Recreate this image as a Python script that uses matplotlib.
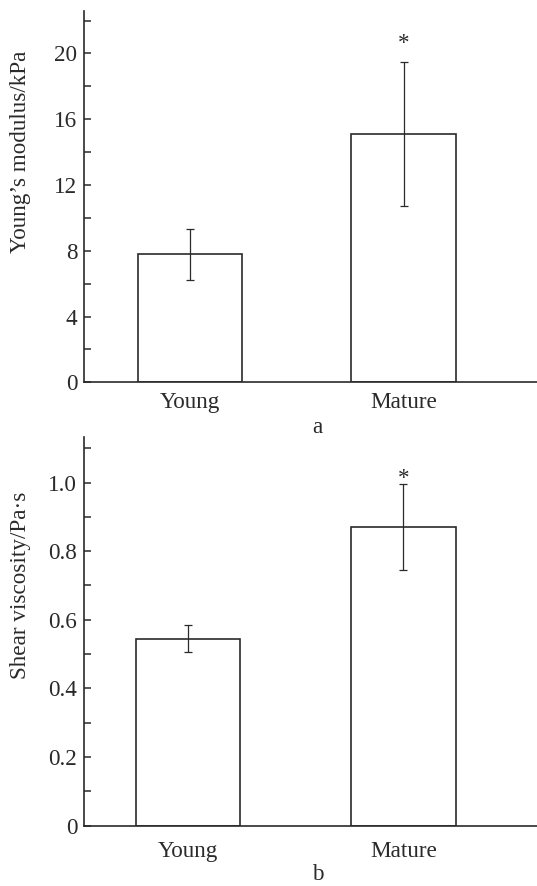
import matplotlib.pyplot as plt
import numpy as np

plt.rcParams['font.family'] = ['Liberation Serif', 'DejaVu Serif']

groups = ["Young", "Mature"]

modulus = np.array([7.8, 15.1])        # kPa
modulus_err = np.array([1.55, 4.4])
modulus_ticks = [0, 4, 8, 12, 16, 20]

viscosity = np.array([0.545, 0.87])    # Pa·s
viscosity_err = np.array([0.04, 0.125])
viscosity_ticks = [0, 0.2, 0.4, 0.6, 0.8, 1.0]
viscosity_labels = ["0", "0.2", "0.4", "0.6", "0.8", "1.0"]

ink = "#2a2a2a"
fs = 16.7

fig = plt.figure(figsize=(5.37, 8.86), dpi=100)


def bar_panel(ax, values, errs, width, ylim, ticks, ticklabels, minor, star_y, xpad):
    x = np.arange(len(values))
    ax.bar(x, values, width=width, color="white", edgecolor=ink, linewidth=1.2, zorder=2)
    ax.errorbar(x, values, yerr=errs, fmt="none", ecolor=ink, elinewidth=0.9,
                capsize=3, capthick=0.9, zorder=3)
    # significance mark above the mature group
    ax.text(x[1], star_y, "*", ha="center", va="center", fontsize=fs, color=ink)

    ax.set_ylim(ylim)
    ax.set_yticks(ticks)
    ax.set_yticklabels(ticklabels)
    ax.set_yticks(minor, minor=True)
    ax.set_xticks(x)
    ax.set_xticklabels(groups)

    for side in ["top", "right"]:
        ax.spines[side].set_visible(False)
    for side in ["left", "bottom"]:
        ax.spines[side].set_color(ink)
        ax.spines[side].set_linewidth(1.2)

    ax.tick_params(axis="y", which="both", direction="in", length=5, width=1.1,
                   color=ink, labelsize=fs, labelcolor=ink, pad=4.5)
    ax.tick_params(axis="x", length=0, labelsize=fs, labelcolor=ink, pad=xpad)


# a: Young's modulus
ax1 = fig.add_axes([0.1555, 0.5685, 0.8445, 0.4194])
bar_panel(ax1, modulus, modulus_err, 0.49, (0, 22.6), modulus_ticks,
          [str(t) for t in modulus_ticks], [2, 6, 10, 14, 18, 22], 20.6, 7)
ax1.set_xlim(-0.5, 1.625)
fig.text(21 / 537, 1 - 152 / 886, "Young\u2019s modulus/kPa", rotation=90,
         ha="center", va="center", fontsize=fs, color=ink)
fig.text(0.591, 1 - 428 / 886, "a", ha="center", va="center", fontsize=fs, color=ink)

# b: shear viscosity
ax2 = fig.add_axes([0.1555, 0.0681, 0.8445, 0.4384])
bar_panel(ax2, viscosity, viscosity_err, 0.485, (0, 1.132), viscosity_ticks,
          viscosity_labels, [0.1, 0.3, 0.5, 0.7, 0.9, 1.1], 1.011, 11)
ax2.set_xlim(-0.485, 1.62)
fig.text(21 / 537, 1 - 585 / 886, "Shear viscosity/Pa\u00b7s", rotation=90,
         ha="center", va="center", fontsize=fs, color=ink)
fig.text(0.591, 1.5 / 886, "b", ha="center", va="bottom", fontsize=fs, color=ink)

fig.savefig("out.png", dpi=100)
